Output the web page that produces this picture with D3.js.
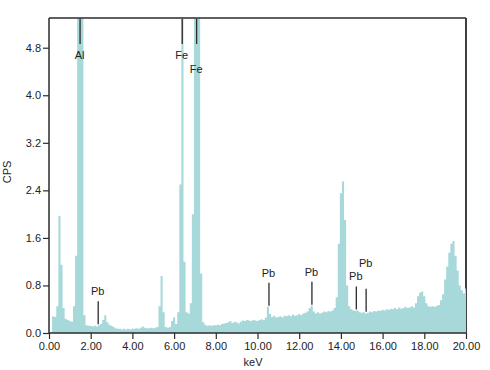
<!DOCTYPE html>
<html>
<head>
<meta charset="utf-8">
<script src="https://cdn.jsdelivr.net/npm/d3@7"></script>
<style>
  html, body { margin: 0; padding: 0; background: #fff; }
  svg { display: block; font-family: Arial, "Liberation Sans", Helvetica, sans-serif; }
</style>
</head>
<body>
<svg id="chart" width="490" height="370"></svg>
<script>
// ---------------- DATA ----------------
// channel energies (keV), 0.1 keV spacing
const energies = d3.range(0, 201).map(i => i / 10);
// counts per second, one per channel (values above the axis top are clipped peaks)
const cps = [
  0, 0, 0.28, 0.27, 0.45, 1.97, 1.15, 0.42, 0.24, 0.22,          // 0.0 - 0.9
  0.20, 0.19, 0.45, 1.3, 30, 30, 30, 0.3, 0.13, 0.12,            // 1.0 - 1.9
  0.12, 0.11, 0.12, 0.11, 0.13, 0.15, 0.22, 0.30, 0.18, 0.14,    // 2.0 - 2.9
  0.12, 0.10, 0.08, 0.07, 0.07, 0.06, 0.07, 0.06, 0.07, 0.06,    // 3.0 - 3.9
  0.07, 0.07, 0.08, 0.07, 0.09, 0.11, 0.09, 0.08, 0.08, 0.09,    // 4.0 - 4.9
  0.08, 0.09, 0.10, 0.45, 0.96, 0.35, 0.10, 0.09, 0.10, 0.20,    // 5.0 - 5.9
  0.26, 0.15, 0.35, 2.5, 30, 1.2, 0.35, 0.33, 0.50, 2.0,         // 6.0 - 6.9
  30, 30, 30, 1.0, 0.18, 0.14, 0.12, 0.13, 0.12, 0.13,           // 7.0 - 7.9
  0.13, 0.14, 0.13, 0.15, 0.16, 0.17, 0.18, 0.20, 0.17, 0.19,    // 8.0 - 8.9
  0.18, 0.16, 0.19, 0.21, 0.20, 0.22, 0.21, 0.20, 0.22, 0.21,    // 9.0 - 9.9
  0.20, 0.22, 0.23, 0.22, 0.26, 0.44, 0.32, 0.27, 0.29, 0.26,    // 10.0 - 10.9
  0.27, 0.28, 0.26, 0.29, 0.28, 0.30, 0.28, 0.31, 0.29, 0.30,    // 11.0 - 11.9
  0.32, 0.30, 0.33, 0.34, 0.36, 0.42, 0.46, 0.36, 0.33, 0.35,    // 12.0 - 12.9
  0.33, 0.34, 0.36, 0.35, 0.37, 0.36, 0.38, 0.42, 0.60, 1.50,    // 13.0 - 13.9
  2.35, 2.55, 1.90, 0.80, 0.45, 0.40, 0.38, 0.37, 0.38, 0.35,    // 14.0 - 14.9
  0.34, 0.35, 0.33, 0.34, 0.36, 0.35, 0.37, 0.36, 0.38, 0.37,    // 15.0 - 15.9
  0.39, 0.38, 0.40, 0.39, 0.41, 0.40, 0.42, 0.40, 0.43, 0.41,    // 16.0 - 16.9
  0.42, 0.44, 0.42, 0.43, 0.45, 0.43, 0.50, 0.62, 0.68, 0.70,    // 17.0 - 17.9
  0.62, 0.50, 0.45, 0.44, 0.45, 0.44, 0.46, 0.47, 0.55, 0.65,    // 18.0 - 18.9
  0.90, 1.12, 1.35, 1.50, 1.55, 1.30, 1.05, 0.80, 0.72, 0.67,    // 19.0 - 19.9
  0.75                                                           // 20.0
];
// element line markers
const markerEnergies = [1.49, 2.36, 6.39, 7.08, 10.55, 12.61, 14.74, 15.21];
const markerLabels   = ["Al", "Pb", "Fe", "Fe", "Pb", "Pb", "Pb", "Pb"];
// axis ticks
const xTicks = [0, 2, 4, 6, 8, 10, 12, 14, 16, 18, 20];
const yTicks = [0, 0.8, 1.6, 2.4, 3.2, 4.0, 4.8];
const xTitle = "keV";
const yTitle = "CPS";

// ---------------- LAYOUT ----------------
const W = 490, H = 370;
const margin = { left: 49, top: 18, right: 24, bottom: 37 };
const x0 = margin.left, x1 = W - margin.right, yTop = margin.top, yBot = H - margin.bottom;

const x = d3.scaleLinear().domain([0, 20]).range([x0, x1]);
const y = d3.scaleLinear().domain([0, 5.3]).range([yBot, yTop]);

const svg = d3.select("#chart");
const ink = "#2b2b2b";
const fillColor = "#a7d8da";
const fontSize = 11;

svg.append("defs").append("clipPath").attr("id", "plotclip")
  .append("rect").attr("x", x0).attr("y", yTop).attr("width", x1 - x0).attr("height", yBot - yTop);

// right border first (spectrum covers its lower part)
svg.append("line").attr("x1", x1).attr("x2", x1).attr("y1", yTop).attr("y2", yBot)
  .attr("stroke", ink).attr("stroke-width", 1.8);

// spectrum
const data = energies.map((e, i) => ({ e, v: cps[i] }));
const area = d3.area()
  .x(d => x(d.e))
  .y0(y(0))
  .y1(d => y(d.v))
  .curve(d3.curveStep);
svg.append("path")
  .datum(data)
  .attr("clip-path", "url(#plotclip)")
  .attr("fill", fillColor)
  .attr("d", area);

// frame: top, left, bottom
svg.append("line").attr("x1", x0).attr("x2", x1).attr("y1", yTop).attr("y2", yTop)
  .attr("stroke", ink).attr("stroke-width", 1.5);
svg.append("line").attr("x1", x0).attr("x2", x0).attr("y1", yTop).attr("y2", yBot)
  .attr("stroke", ink).attr("stroke-width", 1.5);
svg.append("line").attr("x1", x0).attr("x2", x1).attr("y1", yBot).attr("y2", yBot)
  .attr("stroke", ink).attr("stroke-width", 1.5);

// axes
const xAxis = d3.axisBottom(x).tickValues(xTicks).tickFormat(d3.format(".2f")).tickSize(6).tickPadding(3);
const yAxis = d3.axisLeft(y).tickValues(yTicks).tickFormat(d3.format(".1f")).tickSize(6).tickPadding(2);

const gx = svg.append("g").attr("transform", `translate(0,${yBot})`).call(xAxis);
const gy = svg.append("g").attr("transform", `translate(${x0},0)`).call(yAxis);
[gx, gy].forEach(g => {
  g.select(".domain").remove();
  g.selectAll(".tick line").attr("stroke", ink).attr("stroke-width", 1.2);
  g.selectAll(".tick text").attr("fill", "#222").attr("font-size", fontSize)
    .attr("font-family", 'Arial, "Liberation Sans", Helvetica, sans-serif');
});

// axis titles
svg.append("text").attr("x", 253).attr("y", 366).attr("text-anchor", "middle")
  .attr("font-size", fontSize).attr("fill", "#222").text(xTitle);
svg.append("text").attr("transform", "translate(11,172) rotate(-90)").attr("text-anchor", "middle")
  .attr("font-size", fontSize).attr("fill", "#222").text(yTitle);

// element markers
const yMax = y.domain()[1];
let prev = null;
markerEnergies.forEach((e, k) => {
  const near = data.filter(d => Math.abs(d.e - e) <= 0.1 + 1e-9);
  const localMax = d3.max(near, d => d.v);
  const topAnchored = localMax > yMax;
  const mx = x(e);
  let ya, yb, ly;
  if (topAnchored) {
    ya = yTop + 1; yb = yTop + 26; ly = yb + 15;
    if (prev && prev.top && mx - prev.x < 20) ly = Math.max(ly, prev.ly + 14);
  } else {
    yb = y(localMax) - 1; ya = yb - 23; ly = ya - 6;
    if (prev && !prev.top && mx - prev.x < 20) ly = Math.min(ly, prev.ly - 13.5);
  }
  svg.append("line").attr("x1", mx).attr("x2", mx).attr("y1", ya).attr("y2", yb)
    .attr("stroke", ink).attr("stroke-width", 1.3);
  svg.append("text").attr("x", mx - 0.5).attr("y", ly).attr("text-anchor", "middle")
    .attr("font-size", fontSize).attr("fill", "#222").text(markerLabels[k]);
  prev = { x: mx, ly, top: topAnchored };
});
</script>
</body>
</html>
